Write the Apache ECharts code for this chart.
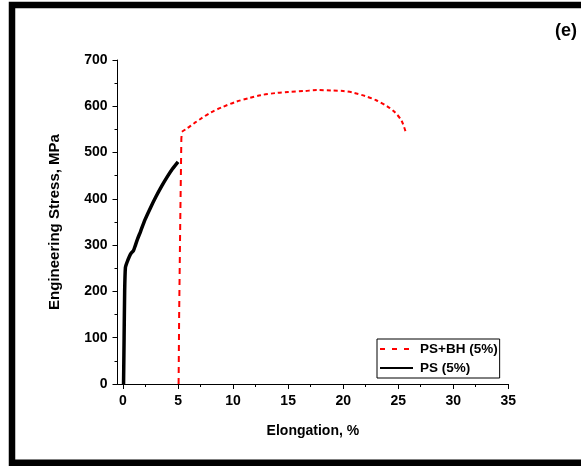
<!DOCTYPE html>
<html>
<head>
<meta charset="utf-8">
<script src="https://cdn.jsdelivr.net/npm/echarts@6/dist/echarts.min.js"></script>
<style>
  html, body { margin: 0; padding: 0; background: #fff; }
  #chart { width: 581px; height: 466px; }
</style>
</head>
<body>
<div id="chart"></div>
<script>
// Tensile curves: elongation (%) vs engineering stress (MPa)
const xTicks = [0, 5, 10, 15, 20, 25, 30, 35];
const yTicks = [0, 100, 200, 300, 400, 500, 600, 700];

// PS (5%) - pre-strained
const psElong  = [0.05, 0.10, 0.15, 0.22, 0.35, 0.55, 0.75, 0.95, 1.10, 1.30, 1.60, 2.00, 2.50, 3.00, 3.50, 4.00, 4.50, 5.00];
const psStress = [0,    100,  200,  252,  262,  274,  283,  288,  298,  312,  330,  355,  381,  405,  427,  447,  465,  480];

// PS+BH (5%) - pre-strained and bake hardened (loading segment)
const bhLoadElong  = [5.05, 5.10, 5.20, 5.30, 5.35];
const bhLoadStress = [0,    150,  350,  530,  545];

// PS+BH (5%) - plastic flow segment
const bhFlowElong  = [5.35, 5.8, 6.5, 7.0, 8.0, 9.0, 10.3, 11.5, 12.5, 14.0, 15.0, 16.5, 17.6, 19.0, 20.0, 21.0, 22.0, 23.0, 24.0, 24.7, 25.3, 25.7];
const bhFlowStress = [545,  552, 564, 572, 587, 598, 610,  618,  624,  629,  631,  633,  635,  634,  633,  629,  622,  613,  600,  587,  569,  543];

const zip = (xs, ys) => xs.map((x, i) => [x, ys[i]]);

const font = 'Arial, "Liberation Sans", sans-serif';
const chart = echarts.init(document.getElementById('chart'), null, { renderer: 'canvas' });

chart.setOption({
  animation: false,
  backgroundColor: '#fff',
  grid: { left: 117.5, right: 72.7, top: 60, bottom: 82, containLabel: false },
  xAxis: {
    type: 'value',
    min: -0.5,
    max: 35,
    interval: 5,
    name: 'Elongation, %',
    nameLocation: 'middle',
    nameGap: 40,
    nameTextStyle: { fontFamily: font, fontWeight: 'bold', fontSize: 14, color: '#000' },
    axisLine: { show: true, onZero: false, lineStyle: { color: '#000', width: 1 } },
    axisTick: { show: true, inside: false, length: 5, lineStyle: { color: '#000' }, customValues: xTicks },
    minorTick: { show: true, splitNumber: 2, length: 3, lineStyle: { color: '#000' } },
    axisLabel: { customValues: xTicks, margin: 10, fontFamily: font, fontWeight: 'bold', fontSize: 14, color: '#000' },
    splitLine: { show: false }
  },
  yAxis: {
    type: 'value',
    min: 0,
    max: 700,
    interval: 100,
    name: 'Engineering Stress, MPa',
    nameLocation: 'middle',
    nameGap: 55,
    nameTextStyle: { fontFamily: font, fontWeight: 'bold', fontSize: 15, color: '#000' },
    axisLine: { show: true, onZero: false, lineStyle: { color: '#000', width: 1 } },
    axisTick: { show: true, inside: false, length: 5, lineStyle: { color: '#000' } },
    minorTick: { show: true, splitNumber: 2, length: 3, lineStyle: { color: '#000' } },
    axisLabel: { margin: 10, fontFamily: font, fontWeight: 'bold', fontSize: 14, color: '#000', formatter: v => yTicks.includes(v) ? String(v) : '' },
    splitLine: { show: false }
  },
  legend: {
    orient: 'vertical',
    left: 377,
    top: 339,
    padding: [3, 2, 3, 2],
    itemGap: 5,
    itemWidth: 33,
    itemHeight: 13,
    borderColor: '#000',
    borderWidth: 1,
    borderRadius: 0,
    backgroundColor: '#fff',
    data: [
      { name: 'PS+BH (5%)', lineStyle: { type: [5, 7] } },
      { name: 'PS (5%)' }
    ],
    itemStyle: { color: 'rgba(0,0,0,0)', borderWidth: 0, opacity: 0 },
    textStyle: { fontFamily: font, fontWeight: 'bold', fontSize: 13.5, color: '#000', padding: [0, 0, 0, 2] }
  },
  graphic: [
    {
      type: 'rect',
      shape: { x: 12, y: 5, width: 620, height: 457.7 },
      style: { fill: 'none', stroke: '#000', lineWidth: 6.5 },
      silent: true,
      z: 100
    },
    {
      type: 'text',
      right: 4,
      top: 22,
      style: { text: '(e)', font: 'bold 18px ' + font, fill: '#000' },
      z: 100
    }
  ],
  series: [
    {
      name: 'PS+BH (5%)',
      type: 'line',
      data: zip(bhFlowElong, bhFlowStress),
      symbol: 'none',
      smooth: 0.3,
      lineStyle: { color: '#ff0000', width: 2, type: [4, 3] },
      itemStyle: { color: '#ff0000' },
      z: 3
    },
    {
      name: 'PS+BH (5%)',
      type: 'line',
      data: zip(bhLoadElong, bhLoadStress),
      symbol: 'none',
      lineStyle: { color: '#ff0000', width: 2, type: [6, 5] },
      itemStyle: { color: '#ff0000' },
      z: 3
    },
    {
      name: 'PS (5%)',
      type: 'line',
      data: zip(psElong, psStress),
      symbol: 'none',
      smooth: 0.2,
      lineStyle: { color: '#000', width: 3.5 },
      itemStyle: { color: '#000' },
      z: 2
    }
  ]
});
</script>
</body>
</html>
